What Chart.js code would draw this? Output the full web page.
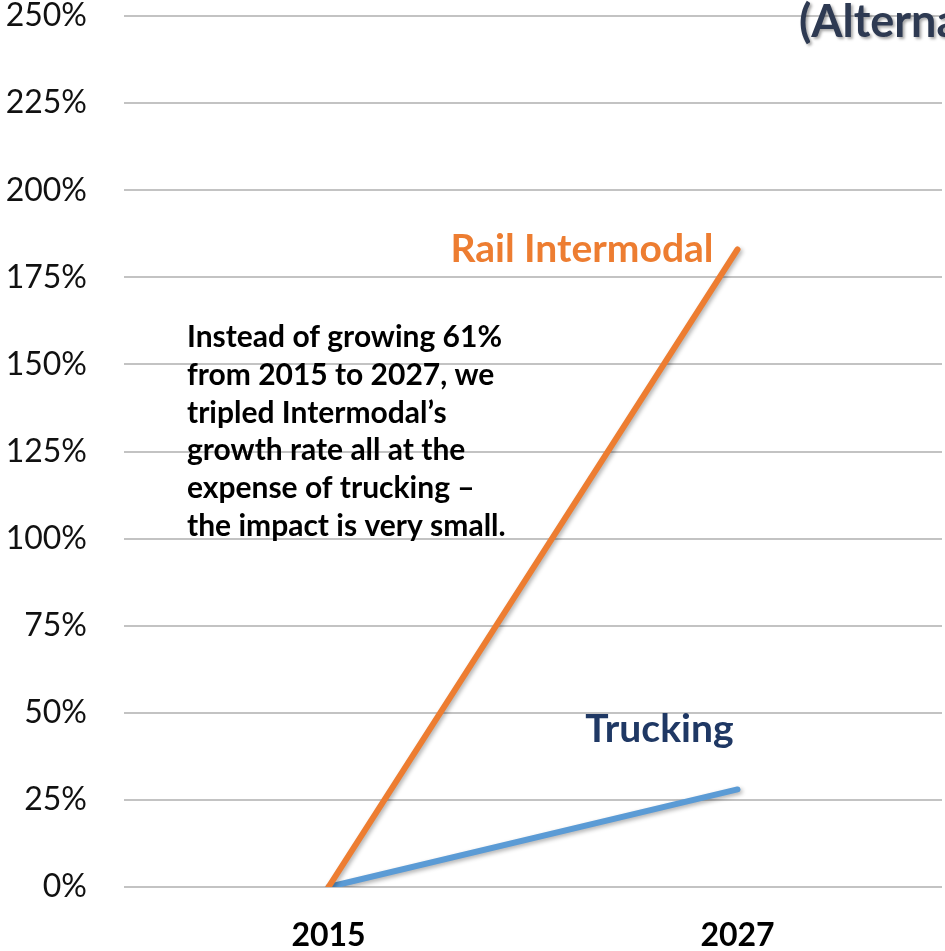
<!DOCTYPE html>
<html>
<head>
<meta charset="utf-8">
<script src="https://cdn.jsdelivr.net/npm/chart.js@4.4.1/dist/chart.umd.min.js"></script>
<style>
  html, body { margin: 0; padding: 0; background: #fff; overflow: hidden; }
  #wrap { width: 945px; height: 951px; }
</style>
</head>
<body>
<div id="wrap"><canvas id="grafico" width="945" height="951"></canvas></div>
<script>
const anos = ['2015', '2027'];
const railIntermodal = [0, 183];
const trucking = [0, 28];
const yMax = 250;
const yStep = 25;

const titulo = '(Alternative';
const notas = [
    'Instead of growing 61%',
    'from 2015 to 2027, we',
    'tripled Intermodal\u2019s',
    'growth rate all at the',
    'expense of trucking \u2013',
    'the impact is very small.'
];

const corRail = '#ED7D31';
const corTruck = '#5B9BD5';
const corAzulEscuro = '#1F3864';

// textos soltos em cima do grafico (titulo cortado, nota e rotulos das series)
const textosPlugin = {
    id: 'textos',
    beforeDatasetsDraw(chart) {
        const ctx = chart.ctx;
        ctx.save();
        ctx.shadowColor = 'rgba(0,0,0,0.3)';
        ctx.shadowBlur = 4;
        ctx.shadowOffsetX = 2;
        ctx.shadowOffsetY = 2;
    },
    afterDatasetsDraw(chart) {
        chart.ctx.restore();
    },
    afterDraw(chart) {
        const ctx = chart.ctx;
        const x = chart.scales.x;
        ctx.save();
        ctx.textBaseline = 'alphabetic';

        ctx.font = 'bold 30px Lato';
        ctx.fillStyle = '#000';
        ctx.textAlign = 'left';
        notas.forEach((linha, i) => ctx.fillText(linha, 187, 347 + i * 37.8));

        ctx.font = 'bold 39px Lato';
        ctx.textAlign = 'right';
        ctx.fillStyle = corRail;
        ctx.fillText('Rail Intermodal', x.getPixelForValue(1) - 24, 262);
        ctx.fillStyle = corAzulEscuro;
        ctx.fillText('Trucking', x.getPixelForValue(1) - 4, 742);

        ctx.shadowColor = 'rgba(0,0,0,0.35)';
        ctx.shadowBlur = 3;
        ctx.shadowOffsetX = 2;
        ctx.shadowOffsetY = 2;
        ctx.font = 'bold 45px Lato';
        ctx.textAlign = 'left';
        ctx.fillStyle = '#2E3A52';
        ctx.fillText(titulo, 799, 37);
        ctx.restore();
    }
};

new Chart(document.getElementById('grafico'), {
    type: 'line',
    data: {
        labels: anos,
        datasets: [
            {
                label: 'Rail Intermodal',
                data: railIntermodal,
                borderColor: corRail,
                borderWidth: 6,
                pointRadius: 0,
                borderCapStyle: 'round',
                tension: 0
            },
            {
                label: 'Trucking',
                data: trucking,
                borderColor: corTruck,
                borderWidth: 6,
                pointRadius: 0,
                borderCapStyle: 'round',
                tension: 0
            }
        ]
    },
    options: {
        responsive: false,
        animation: false,
        layout: { padding: { left: 0, right: 3, top: 0, bottom: 0 } },
        plugins: {
            legend: { display: false },
            title: { display: false },
            tooltip: { enabled: false }
        },
        scales: {
            x: {
                offset: true,
                grid: { display: false },
                border: { display: false },
                ticks: {
                    color: '#000',
                    padding: 25,
                    font: { size: 32, weight: 'bold', family: 'Lato', lineHeight: 1 }
                },
                afterFit(scale) { scale.height = 64; }
            },
            y: {
                min: 0,
                max: yMax,
                border: { display: false },
                grid: { color: '#C3C3C3', lineWidth: 2, drawTicks: false },
                ticks: {
                    stepSize: yStep,
                    color: '#111',
                    padding: 37,
                    font: { size: 32, family: 'Lato', lineHeight: 1 },
                    callback: v => v + '%'
                },
                afterFit(scale) {
                    scale.width = 124;
                    scale.paddingTop = 16;
                    scale.paddingBottom = 0;
                }
            }
        }
    },
    plugins: [textosPlugin]
});
</script>
</body>
</html>
